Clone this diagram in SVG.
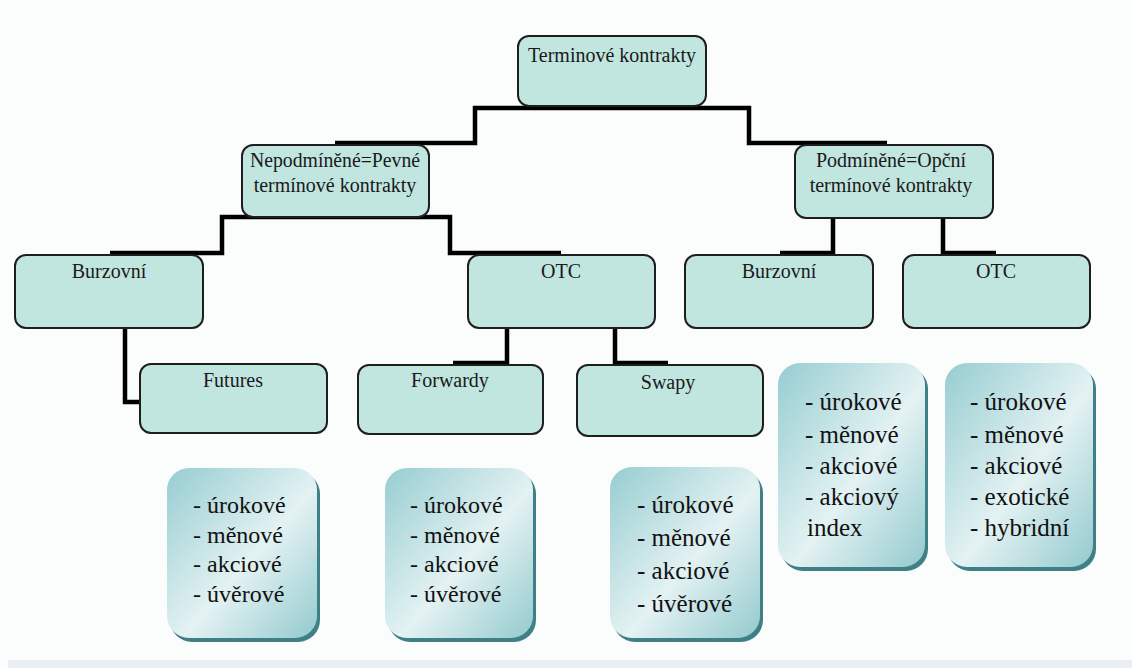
<svg xmlns="http://www.w3.org/2000/svg" width="1132" height="668" viewBox="0 0 1132 668">
<defs>
<linearGradient id="lg" x1="0" y1="0" x2="1" y2="1">
<stop offset="0" stop-color="#96cdd1"/>
<stop offset="0.55" stop-color="#e4f2f3"/>
<stop offset="1" stop-color="#93cace"/>
</linearGradient>
<style>
.n{fill:#c1e5df;stroke:#1e1e1e;stroke-width:2}
.sh{fill:#3f8086}
.lb{fill:url(#lg)}
.c{fill:none;stroke:#000;stroke-width:4.5;stroke-linejoin:miter}
</style>
</defs>
<rect x="0" y="0" width="1132" height="668" fill="#fbfcfc"/>
<rect x="8" y="660" width="1124" height="8" fill="#e8eef2"/>

<g id="connectors">
<path class="c" d="M335,143 H475 V108 H749 V143 H887"/>
<path class="c" d="M110,253 H222 V217 H450 V253 H561"/>
<path class="c" d="M780,253 H833 V215 H943 V253 H996"/>
<path class="c" d="M125,326 V402 H142"/>
<path class="c" d="M453,363 H507 V326 H615 V363 H668"/>
</g>

<g font-family="'Liberation Serif', 'Times New Roman', serif" font-size="20" fill="#1a1a1a" text-anchor="middle">
<g id="root"><rect class="n" x="518" y="36" width="188" height="70" rx="11"/><text x="612" y="62">Terminové kontrakty</text></g>
<g id="nepodminene"><rect class="n" x="242" y="145" width="187" height="72" rx="11"/><text x="335" y="167" textLength="170" lengthAdjust="spacingAndGlyphs">Nepodmíněné=Pevné</text><text x="335" y="192">termínové kontrakty</text></g>
<g id="podminene"><rect class="n" x="795" y="145" width="198" height="73" rx="11"/><text x="891" y="167">Podmíněné=Opční</text><text x="891" y="192">termínové kontrakty</text></g>
<g id="burzovni-l"><rect class="n" x="15" y="255" width="188" height="73" rx="11"/><text x="109" y="278">Burzovní</text></g>
<g id="otc-l"><rect class="n" x="468" y="255" width="187" height="73" rx="11"/><text x="561" y="278">OTC</text></g>
<g id="burzovni-r"><rect class="n" x="685" y="255" width="188" height="73" rx="11"/><text x="779" y="278">Burzovní</text></g>
<g id="otc-r"><rect class="n" x="903" y="255" width="187" height="73" rx="11"/><text x="996" y="278">OTC</text></g>
<g id="futures"><rect class="n" x="140" y="364" width="187" height="69" rx="11"/><text x="233" y="387">Futures</text></g>
<g id="forwardy"><rect class="n" x="358" y="365" width="185" height="69" rx="11"/><text x="450" y="387">Forwardy</text></g>
<g id="swapy"><rect class="n" x="577" y="365" width="186" height="71" rx="11"/><text x="668" y="389">Swapy</text></g>
</g>

<g font-family="'Liberation Serif', 'Times New Roman', serif" font-size="24" fill="#111">
<g id="list-futures"><rect class="sh" x="170" y="472" width="150" height="170" rx="22"/><rect class="lb" x="167" y="468" width="150" height="170" rx="22"/>
<text x="193" y="513">- úrokové</text><text x="193" y="543">- měnové</text><text x="193" y="572">- akciové</text><text x="193" y="602">- úvěrové</text></g>
<g id="list-forwardy"><rect class="sh" x="388" y="472" width="148" height="170" rx="22"/><rect class="lb" x="385" y="468" width="148" height="170" rx="22"/>
<text x="410" y="513">- úrokové</text><text x="410" y="543">- měnové</text><text x="410" y="572">- akciové</text><text x="410" y="602">- úvěrové</text></g>
<g id="list-swapy" font-size="25"><rect class="sh" x="613" y="471" width="150" height="171" rx="22"/><rect class="lb" x="610" y="467" width="150" height="171" rx="22"/>
<text x="637" y="513">- úrokové</text><text x="637" y="546">- měnové</text><text x="637" y="579">- akciové</text><text x="637" y="612">- úvěrové</text></g>
<g id="list-burzovni" font-size="25"><rect class="sh" x="781" y="367" width="147" height="204" rx="22"/><rect class="lb" x="778" y="363" width="147" height="204" rx="22"/>
<text x="805" y="410">- úrokové</text><text x="805" y="443">- měnové</text><text x="805" y="474">- akciové</text><text x="805" y="505">- akciový</text><text x="807" y="536">index</text></g>
<g id="list-otc" font-size="25"><rect class="sh" x="948" y="367" width="148" height="204" rx="22"/><rect class="lb" x="945" y="363" width="148" height="204" rx="22"/>
<text x="970" y="410">- úrokové</text><text x="970" y="443">- měnové</text><text x="970" y="474">- akciové</text><text x="970" y="505">- exotické</text><text x="970" y="536">- hybridní</text></g>
</g>
</svg>
